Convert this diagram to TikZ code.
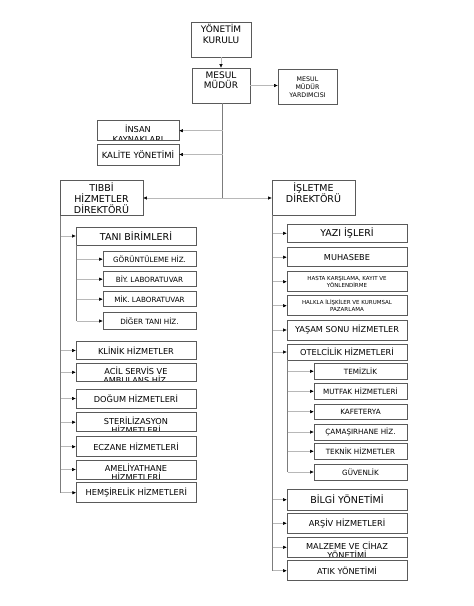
\documentclass[tikz,border=0pt]{standalone}
\usepackage{fontspec}
\setmainfont{DejaVu Sans}
\usepackage{xcolor}
\usepackage{tikz}
\usetikzlibrary{positioning,arrows.meta}
\definecolor{boxline}{HTML}{5a5a5a}
\definecolor{trunkline}{HTML}{7c7c7c}
\definecolor{linkline}{HTML}{b8b8b8}

\begin{document}
\begin{tikzpicture}[
        x=1pt, y=-1pt,
        topbox/.style={
            rectangle,
            draw=boxline,
            line width=0.8pt,
            align=center,
            inner sep=0pt,
            minimum width=60pt,
            minimum height=35pt,
            font=\fontsize{9}{10.6}\selectfont
        },
        dirbox/.style={
            topbox,
            minimum width=83pt,
            font=\fontsize{9.5}{10.8}\selectfont
        },
        box/.style={
            topbox,
            minimum width=120pt,
            minimum height=19.5pt,
            font=\fontsize{8.2}{9.5}\selectfont
        },
        subbox/.style={
            box,
            minimum width=93pt,
            minimum height=15.5pt,
            font=\fontsize{7.2}{8.5}\selectfont
        },
        bigtext/.style={font=\fontsize{9.5}{11}\selectfont},
        smalltext/.style={font=\fontsize{5.5}{6.6}\selectfont},
        cutbox/.style={
            path picture={
                \node[anchor=north, inner sep=0pt, align=center,
                      font=\fontsize{8.2}{9.5}\selectfont]
                    at ([yshift=-2.5pt]path picture bounding box.north) {#1};
            }
        },
        trunk/.style={
            draw=trunkline,
            line width=0.9pt
        },
        arrow/.style={
            draw=linkline,
            line width=0.5pt,
            -{Triangle[length=3.5pt, width=3pt, color=black]}
        }
    ]
        \fill[white] (0,0) rectangle (474,606);

        % Top of the chart
        \node[topbox, text depth=11pt] (ykurul) at (221,39.5) {YÖNETİM\\KURULU};
        \node[topbox, minimum width=58pt, text depth=11pt] (mesul) at (221,85.5) {MESUL\\MÜDÜR};
        \node[topbox, minimum width=59pt, font=\fontsize{6.3}{8}\selectfont] (myard) at (307.5,87) {MESUL\\MÜDÜR\\YARDIMCISI};
        \node[box, minimum width=82pt, minimum height=20pt, cutbox={İNSAN\\KAYNAKLARI}] (insan) at (138,130.7) {};
        \node[box, minimum width=82pt, minimum height=21pt, font=\fontsize{8.5}{10}\selectfont] (kalite) at (138,154.5) {KALİTE YÖNETİMİ};

        % Directors
        \node[dirbox] (tibbi) at (101.5,198) {TIBBİ\\HİZMETLER\\DİREKTÖRÜ};
        \node[dirbox, text depth=10pt] (islet) at (313.5,197.5) {İŞLETME\\DİREKTÖRÜ};

        % Tibbi side
        \node[box, minimum height=18pt, bigtext] (tani) at (136,236) {TANI BİRİMLERİ};
        \node[subbox, minimum height=15pt] (gorunt) at (149.5,259.2) {GÖRÜNTÜLEME HİZ.};
        \node[subbox, minimum height=15pt] (biylab) at (149.5,279.2) {BİY. LABORATUVAR};
        \node[subbox, minimum height=15pt] (miklab) at (149.5,299.2) {MİK. LABORATUVAR};
        \node[subbox, minimum height=16.6pt] (diger) at (149.5,321) {DİĞER TANI HİZ.};
        \node[box, minimum height=17.6pt] (klinik) at (136,350.5) {KLİNİK HİZMETLER};
        \node[box, minimum height=18.7pt, cutbox={ACİL SERVİS VE\\AMBULANS HİZ.}] (acil) at (136,372.3) {};
        \node[box, minimum height=19pt] (dogum) at (136,398.5) {DOĞUM HİZMETLERİ};
        \node[box, minimum height=19pt, cutbox={STERİLİZASYON\\HİZMETLERİ}] (steril) at (136,422.2) {};
        \node[box, minimum height=20pt] (eczane) at (136,446.7) {ECZANE HİZMETLERİ};
        \node[box, minimum height=19pt, cutbox={AMELİYATHANE\\HİZMETLERİ}] (amel) at (136,469.5) {};
        \node[box, minimum height=20pt] (hemsire) at (136.3,492.7) {HEMŞİRELİK HİZMETLERİ};

        % Isletme side
        \node[box, minimum height=18.7pt, bigtext] (yazi) at (347,233.3) {YAZI İŞLERİ};
        \node[box, minimum height=19pt] (muhas) at (347,257.2) {MUHASEBE};
        \node[box, minimum height=20pt, smalltext] (hasta) at (347,281.7) {HASTA KARŞILAMA, KAYIT VE\\YÖNLENDİRME};
        \node[box, minimum height=20pt, smalltext] (halkla) at (347,305.7) {HALKLA İLİŞKİLER VE KURUMSAL\\PAZARLAMA};
        \node[box, minimum height=20pt] (yasam) at (347,330) {YAŞAM SONU HİZMETLER};
        \node[box, minimum height=16pt] (otel) at (347,352) {OTELCİLİK HİZMETLERİ};
        \node[subbox, minimum height=16pt] (temiz) at (360.5,371.3) {TEMİZLİK};
        \node[subbox, minimum height=16pt] (mutfak) at (360.5,391.3) {MUTFAK HİZMETLERİ};
        \node[subbox, minimum height=15.3pt] (kafe) at (360.5,411.7) {KAFETERYA};
        \node[subbox, minimum height=16pt] (camas) at (360.5,432) {ÇAMAŞIRHANE HİZ.};
        \node[subbox, minimum height=16pt] (teknik) at (360.5,451.3) {TEKNİK HİZMETLER};
        \node[subbox, minimum height=16pt] (guven) at (360.5,472) {GÜVENLİK};
        \node[box, minimum height=20.5pt, bigtext] (bilgi) at (347,499.7) {BİLGİ YÖNETİMİ};
        \node[box, minimum height=20pt] (arsiv) at (347,523.3) {ARŞİV HİZMETLERİ};
        \node[box, minimum height=20pt, cutbox={MALZEME VE CİHAZ\\YÖNETİMİ}] (malz) at (347,547.3) {};
        \node[box, minimum height=20pt] (atik) at (347,570.7) {ATIK YÖNETİMİ};

        % Top connectors
        \draw[arrow] (ykurul) -- (mesul);
        \draw[arrow] (mesul) -- (mesul -| myard.west);
        \coordinate (j) at ([xshift=1.5pt]mesul.south |- tibbi.east);
        \draw[trunk] ([xshift=1.5pt]mesul.south) -- (j);
        \draw[arrow] (insan.east -| j) -- (insan.east);
        \draw[arrow] (kalite.east -| j) -- (kalite.east);
        \draw[arrow] (j) -- (tibbi.east);
        \draw[arrow] (j) -- (j -| islet.west);

        % Tibbi branches
        \coordinate (tl) at ([xshift=1pt]tibbi.south west);
        \draw[trunk] (tl) -- (tl |- hemsire.west);
        \foreach \n in {tani,klinik,acil,dogum,steril,eczane,amel,hemsire}
            \draw[arrow] (tl |- \n.west) -- (\n.west);
        \coordinate (ts) at ([xshift=1pt]tani.south west);
        \draw[trunk] (ts) -- (ts |- diger.west);
        \foreach \n in {gorunt,biylab,miklab,diger}
            \draw[arrow] (ts |- \n.west) -- (\n.west);

        % Isletme branches
        \coordinate (tr) at ([xshift=1pt]islet.south west);
        \draw[trunk] (tr) -- (tr |- atik.west);
        \foreach \n in {yazi,muhas,hasta,halkla,yasam,otel,bilgi,arsiv,malz,atik}
            \draw[arrow] (tr |- \n.west) -- (\n.west);
        \coordinate (to) at ([xshift=1pt]otel.south west);
        \draw[trunk] (to) -- (to |- guven.west);
        \foreach \n in {temiz,mutfak,kafe,camas,teknik,guven}
            \draw[arrow] (to |- \n.west) -- (\n.west);
    \end{tikzpicture}
\end{document}
